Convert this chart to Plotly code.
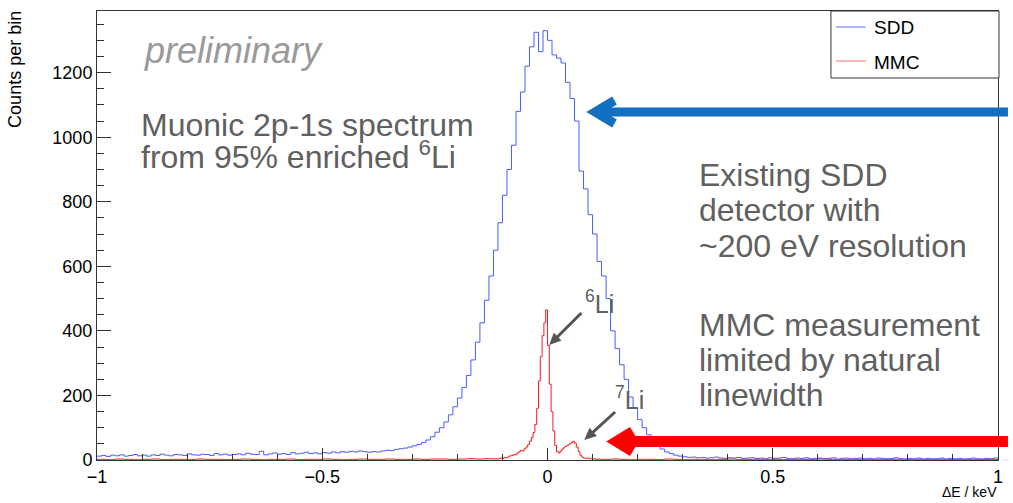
import numpy as np
import plotly.graph_objects as go

# ---------------- data ----------------
# SDD histogram: 200 bins of 0.01 keV from -1 to 1
sdd_lo, sdd_hi = -1.0, 1.0
sdd_counts = [
    # -1.0 .. -0.5
    12, 14, 11, 15, 13, 16, 12, 14, 17, 13,
    15, 12, 16, 14, 18, 15, 13, 17, 16, 14,
    19, 16, 15, 18, 17, 14, 20, 16, 18, 15,
    17, 19, 16, 21, 18, 17, 27, 16, 19, 22,
    18, 20, 17, 23, 19, 21, 24, 20, 22, 19,
    # -0.5 .. -0.4
    23, 21, 25, 22, 26, 24, 27, 25, 28, 26,
    # -0.4 .. -0.3
    24, 26, 25, 28, 30, 29, 33, 35, 37, 40,
    # -0.3 .. -0.2
    44, 48, 54, 62, 72, 86, 100, 118, 140, 165,
    # -0.2 .. -0.1
    192, 225, 262, 310, 365, 425, 495, 570, 650, 735,
    # -0.1 .. 0
    820, 900, 975, 1080, 1140, 1220, 1280, 1325, 1265, 1330,
    # 0 .. 0.1
    1300, 1255, 1245, 1230, 1170, 1120, 1050, 895, 840, 760,
    # 0.1 .. 0.2
    700, 615, 570, 500, 400, 345, 295, 250, 195, 160,
    # 0.2 .. 0.3
    125, 100, 78, 62, 45, 34, 25, 20, 15, 12,
    # 0.3 .. 1.0
    10, 8, 9, 7, 8, 6, 7, 9, 6, 5,
    7, 6, 8, 5, 6, 7, 5, 6, 4, 7,
    5, 6, 8, 5, 4, 6, 5, 7, 4, 5,
    6, 4, 5, 7, 3, 5, 6, 4, 5, 6,
    4, 5, 3, 6, 5, 4, 5, 7, 4, 3,
    5, 4, 6, 3, 5, 4, 4, 6, 3, 5,
    4, 5, 3, 4, 6, 4, 3, 5, 4, 6,
]

# MMC histogram: fine bins (0.004 keV) around the lines
mmc_core_lo, mmc_core_hi = -0.12, 0.12
mmc_core_counts = [
    3, 4, 3, 5, 6, 5, 8, 7, 10, 13,
    14, 17, 16, 22, 26, 30, 28, 35, 40, 48,
    58, 70, 85, 110, 160, 245, 320, 385, 425, 465,
    355, 235, 150, 90, 45, 26, 22, 28, 34, 40,
    43, 46, 50, 54, 58, 52, 40, 26, 15, 9,
    6, 5, 6, 4, 4, 3, 4, 2, 3, 2,
]
# MMC tails: coarse bins (0.02 keV)
mmc_left_counts = [
    2, 1, 3, 2, 1, 2, 3, 1, 2, 2,
    1, 3, 2, 2, 1, 2, 3, 2, 1, 2,
    2, 3, 1, 2, 2, 3, 2, 1, 2, 3,
    2, 2, 3, 2, 2, 3, 2, 3, 3, 2,
    3, 4, 3, 4,
]
mmc_right_counts = [
    2, 3, 2, 1, 2, 2, 1, 3, 2, 1,
    2, 2, 1, 2, 3, 1, 2, 2, 1, 2,
    1, 2, 2, 1, 3, 2, 1, 2, 2, 1,
    2, 1, 2, 2, 1, 2, 1, 2, 2, 1,
    2, 1, 2, 2,
]

x_ticks = [-1, -0.5, 0, 0.5, 1]
x_tick_text = ["\u22121", "\u22120.5", "0", "0.5", "1"]
y_ticks = [0, 200, 400, 600, 800, 1000, 1200]
y_range = [0, 1391]

# ---------------- helpers ----------------
def step_xy(edges, counts):
    xs = list(edges)
    ys = list(counts) + [counts[-1]]
    return xs, ys

sdd_edges = np.linspace(sdd_lo, sdd_hi, len(sdd_counts) + 1)
sdd_x, sdd_y = step_xy(sdd_edges, sdd_counts)

left_edges = np.linspace(-1.0, mmc_core_lo, len(mmc_left_counts) + 1)
core_edges = np.linspace(mmc_core_lo, mmc_core_hi, len(mmc_core_counts) + 1)
right_edges = np.linspace(mmc_core_hi, 1.0, len(mmc_right_counts) + 1)
mmc_edges = np.concatenate([left_edges[:-1], core_edges[:-1], right_edges])
mmc_vals = mmc_left_counts + mmc_core_counts + mmc_right_counts
mmc_x, mmc_y = step_xy(mmc_edges, mmc_vals)

W, H = 1013, 503
ML, MR, MT, MB = 97, 10, 11, 43
PW = W - ML - MR
PH = H - MT - MB
FONT = "Liberation Sans, Arial, Helvetica, sans-serif"
GREY = "#606060"


def px(x):
    return (x - ML) / PW


def py(y):
    return (H - MB - y) / PH


def label(text, left, baseline, size, color=GREY, italic=False, anchor="left"):
    return dict(
        text=text, xref="paper", yref="paper",
        x=px(left - 1 if anchor == "left" else left + 1),
        y=py(baseline + 0.212 * size + 1),
        xanchor=anchor, yanchor="bottom", showarrow=False,
        font=dict(family=FONT, size=size, color=color,
                  style="italic" if italic else "normal"),
    )


def path(points):
    return "M " + " L ".join(f"{px(a):.5f},{py(b):.5f}" for a, b in points) + " Z"


def small_arrow(tail, tip, color="#555555", width=3, head_len=12, head_half=5.5):
    dx, dy = tip[0] - tail[0], tip[1] - tail[1]
    n = (dx * dx + dy * dy) ** 0.5
    ux, uy = dx / n, dy / n
    bx, by = tip[0] - head_len * ux, tip[1] - head_len * uy
    qx, qy = -uy * head_half, ux * head_half
    return [
        dict(type="line", xref="paper", yref="paper",
             x0=px(tail[0]), y0=py(tail[1]), x1=px(bx + 2 * ux), y1=py(by + 2 * uy),
             line=dict(color=color, width=width), layer="above"),
        dict(type="path", xref="paper", yref="paper",
             path=path([tip, (bx + qx, by + qy), (bx - qx, by - qy)]),
             fillcolor=color, line=dict(width=0), layer="above"),
    ]


fig = go.Figure()
fig.add_trace(go.Scatter(
    x=sdd_x, y=sdd_y, mode="lines", line=dict(color="#4a5cff", width=1, shape="hv"),
    name="SDD", showlegend=False, hoverinfo="skip",
))
fig.add_trace(go.Scatter(
    x=mmc_x, y=mmc_y, mode="lines", line=dict(color="#ff1a1a", width=1, shape="hv"),
    name="MMC", showlegend=False, hoverinfo="skip",
))

annotations = [
    label("preliminary", 143, 64, 36, color="#9a9a9a", italic=True),
    label("Muonic 2p-1s spectrum", 140, 137, 32),
    label("from 95% enriched <sup>6</sup>Li", 140, 169, 32),
    label("Existing SDD", 701, 187, 32),
    label("detector with", 701, 222, 32),
    label("~200 eV resolution", 701, 258, 32),
    label("MMC measurement", 701, 337, 32),
    label("limited by natural", 701, 372, 32),
    label("linewidth", 701, 407, 32),
    label("<sup>6</sup>Li", 587, 314, 25),
    label("<sup>7</sup>Li", 617, 410, 25),
    # legend texts
    label("SDD", 877, 35, 19, color="#000000"),
    label("MMC", 877, 70, 19, color="#000000"),
    # axis titles
    dict(text="Counts per bin", xref="paper", yref="paper", x=px(26), y=py(9),
         xanchor="right", yanchor="top", textangle=-90, showarrow=False,
         font=dict(family=FONT, size=18, color="#000000")),
    label("\u0394E / keV", 1003, 498, 14, color="#000000", anchor="right"),
]

BLUE = "#1170bf"
RED = "#ff0000"
shapes = [
    # blue arrow
    dict(type="rect", xref="paper", yref="paper", x0=px(604), x1=px(1013),
         y0=py(116.5), y1=py(107.5), fillcolor=BLUE, line=dict(width=0), layer="above"),
    dict(type="path", xref="paper", yref="paper",
         path=path([(589, 112), (615, 96.5), (619.7, 104.4), (607, 112), (619.7, 119.6), (615, 127.5)]),
         fillcolor=BLUE, line=dict(width=0), layer="above"),
    # red arrow
    dict(type="rect", xref="paper", yref="paper", x0=px(626), x1=px(1013),
         y0=py(447), y1=py(436), fillcolor=RED, line=dict(width=0), layer="above"),
    dict(type="path", xref="paper", yref="paper",
         path=path([(609, 441.5), (633, 427), (638.7, 436.4), (630.3, 441.5), (638.7, 446.6), (633, 456)]),
         fillcolor=RED, line=dict(width=0), layer="above"),
    # legend box
    dict(type="rect", xref="paper", yref="paper", x0=px(835), x1=px(1004),
         y0=py(78), y1=py(11), fillcolor="white", line=dict(color="#333333", width=1), layer="above"),
    dict(type="line", xref="paper", yref="paper", x0=px(840), x1=px(870),
         y0=py(27), y1=py(27), line=dict(color="#5a6cff", width=1), layer="above"),
    dict(type="line", xref="paper", yref="paper", x0=px(840), x1=px(870),
         y0=py(61), y1=py(61), line=dict(color="#ff7070", width=1), layer="above"),
]
shapes += small_arrow((584, 313), (551.7, 345))
shapes += small_arrow((618, 412), (587, 440))

fig.update_layout(
    width=W, height=H,
    margin=dict(l=ML, r=MR, t=MT, b=MB, pad=0),
    paper_bgcolor="white", plot_bgcolor="white",
    font=dict(family=FONT, size=18, color="#000000"),
    annotations=annotations, shapes=shapes,
    showlegend=False,
)
fig.update_xaxes(
    range=[-1, 1], tickvals=x_ticks, ticktext=x_tick_text,
    ticks="inside", ticklen=12, tickcolor="#333333", tickwidth=1,
    minor=dict(dtick=0.1, ticks="inside", ticklen=6, tickcolor="#333333"),
    showline=True, linecolor="#333333", linewidth=1, mirror=True,
    showgrid=False, zeroline=False, tickfont=dict(size=18),
)
fig.update_yaxes(
    range=y_range, tickvals=y_ticks,
    ticks="inside", ticklen=14, tickcolor="#333333", tickwidth=1,
    minor=dict(dtick=50, ticks="inside", ticklen=7, tickcolor="#333333"),
    showline=True, linecolor="#333333", linewidth=1, mirror=True,
    showgrid=False, zeroline=False, tickfont=dict(size=18),
)

fig.write_html(
    "out.html",
    config={"displayModeBar": False, "staticPlot": True},
    post_script=["document.body.style.margin='0px';document.body.style.overflow='hidden';"],
)
